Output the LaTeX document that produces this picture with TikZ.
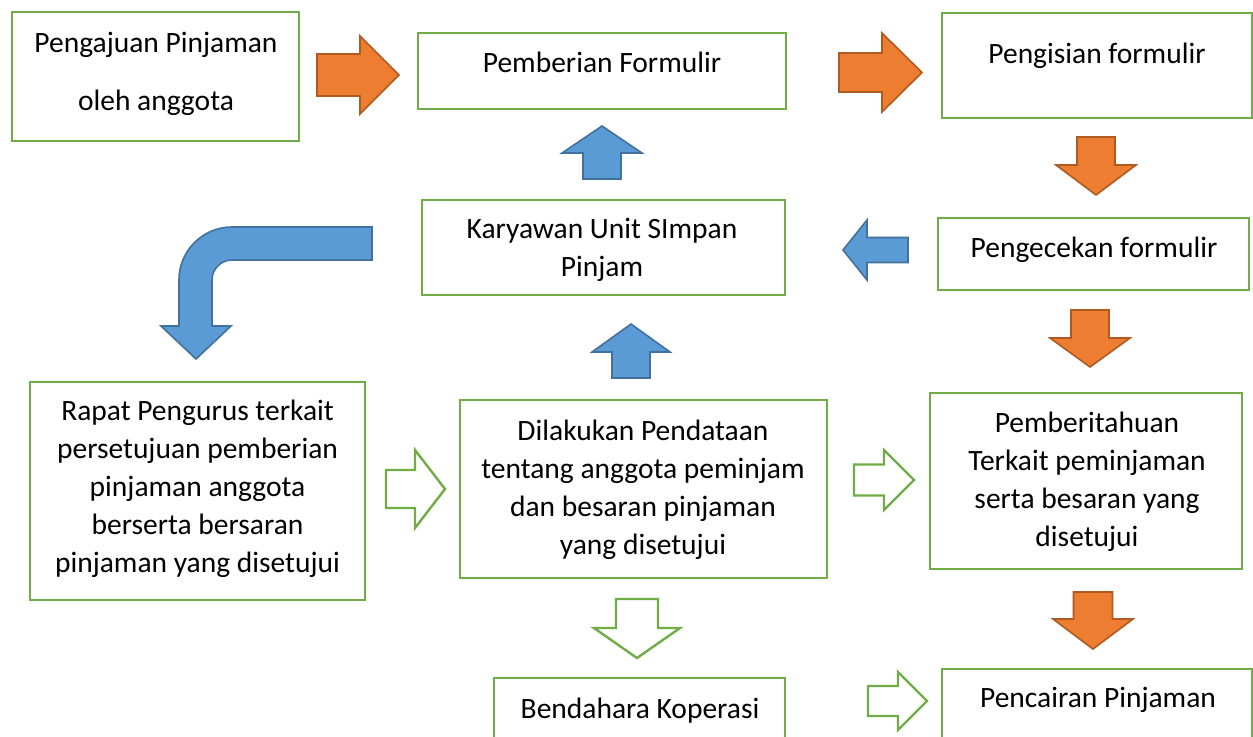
\documentclass[tikz,border=0pt]{standalone}
\usepackage{fontspec}
\setmainfont{Carlito}
\definecolor{boxgreen}{HTML}{70AD47}
\definecolor{orfill}{HTML}{ED7D31}
\definecolor{ordraw}{HTML}{AE5A21}
\definecolor{blfill}{HTML}{5B9BD5}
\definecolor{bldraw}{HTML}{41719C}

% block arrow: style, angle, tail x, tail y, length, head length, shaft width, head width
\newcommand\blockarrow[8]{%
  \draw[#1, shift={(#3,#4)}, rotate=#2, line join=miter]
    (0,{-#7/2}) -- ({#5-#6},{-#7/2}) -- ({#5-#6},{-#8/2}) -- (#5,0)
    -- ({#5-#6},{#8/2}) -- ({#5-#6},{#7/2}) -- (0,{#7/2}) -- cycle;}

\begin{document}
\begin{tikzpicture}[x=0.5pt,y=-0.5pt,
  box/.style={draw=boxgreen, line width=1.25pt, inner sep=0pt, fill=white},
  txt/.style={inner sep=0pt, align=center, anchor=north,
              font=\fontsize{14.75}{19}\selectfont},
  orange/.style={fill=orfill, draw=ordraw, line width=0.8pt},
  blue/.style={fill=blfill, draw=bldraw, line width=0.8pt},
  hollow/.style={fill=white, draw=boxgreen, line width=1.2pt}]
\clip (0,0) rectangle (1253,736);
\fill[white] (0,0) rectangle (1253,736);

% boxes
\node[box, minimum width=143.5pt, minimum height=64.5pt] (b1) at (155.5,76.5) {};
\node[box, minimum width=184pt,   minimum height=38pt]   (b2) at (602,71) {};
\node[box, minimum width=155pt,   minimum height=52.5pt] (b3) at (1097,65.5) {};
\node[box, minimum width=181.5pt, minimum height=47.5pt] (b4) at (603.5,247.5) {};
\node[box, minimum width=155.5pt, minimum height=36pt]   (b5) at (1093.5,254) {};
\node[box, minimum width=167.5pt, minimum height=109pt]  (b6) at (197.5,491) {};
\node[box, minimum width=183.5pt, minimum height=89pt]   (b7) at (643.5,489) {};
\node[box, minimum width=156pt,   minimum height=88pt]   (b8) at (1086,481) {};
\node[box, minimum width=145.5pt, minimum height=41pt]   (b9) at (639.5,719) {};
\node[box, minimum width=155pt,   minimum height=45.5pt] (b10) at (1097,714.5) {};

% texts
\node[txt, font=\fontsize{14.75}{29}\selectfont] (t1) at (156,11.4)
  {\strut Pengajuan Pinjaman\\oleh anggota\strut};
\node[txt] (t2) at (602,45.4) {\strut Pemberian Formulir};
\node[txt] (t3) at (1097,36.4) {\strut Pengisian formulir};
\node[txt] (t4) at (602,211.4) {\strut Karyawan Unit SImpan\\Pinjam\strut};
\node[txt] (t5) at (1094,230.4) {\strut Pengecekan formulir};
\node[txt] (t6) at (197.5,393.4)
  {\strut Rapat Pengurus terkait\\persetujuan pemberian\\pinjaman anggota\\berserta bersaran\\pinjaman yang disetujui\strut};
\node[txt] (t7) at (643,413.4)
  {\strut Dilakukan Pendataan\\tentang anggota peminjam\\dan besaran pinjaman\\yang disetujui\strut};
\node[txt] (t8) at (1087,405.4)
  {\strut Pemberitahuan\\Terkait peminjaman\\serta besaran yang\\disetujui\strut};
\node[txt] (t9) at (640,691.4) {\strut Bendahara Koperasi};
\node[txt] (t10) at (1098,680.4) {\strut Pencairan Pinjaman};

% orange arrows
\blockarrow{orange}{0}{317}{75}{82}{39}{42}{78}
\blockarrow{orange}{0}{839}{72.5}{83}{40}{39}{79}
\blockarrow{orange}{-90}{1096}{137}{58}{30}{38}{80}
\blockarrow{orange}{-90}{1090}{310}{57}{29}{38}{80}
\blockarrow{orange}{-90}{1093}{592}{57}{30}{39}{80}

% blue arrows
\blockarrow{blue}{90}{602}{179}{53}{27}{38}{80}
\blockarrow{blue}{180}{908}{250}{65}{24}{25}{60}
\blockarrow{blue}{90}{631}{378}{54}{28}{38}{78}

% bent blue arrow
\draw[blue, line join=miter]
  (372,227) -- (232,227) arc[start angle=270, end angle=180, radius=53]
  -- (179,326) -- (161,326) -- (196,359) -- (231,326) -- (212,326)
  -- (212,280) arc[start angle=180, end angle=270, radius=20]
  -- (372,260) -- cycle;

% hollow green arrows
\blockarrow{hollow}{0}{386}{489}{59}{30}{38}{78}
\blockarrow{hollow}{0}{854}{480}{60}{30}{31}{60}
\blockarrow{hollow}{-90}{637}{599}{59}{30}{42}{86}
\blockarrow{hollow}{0}{868}{701}{59}{29}{30}{58}
\end{tikzpicture}
\end{document}
